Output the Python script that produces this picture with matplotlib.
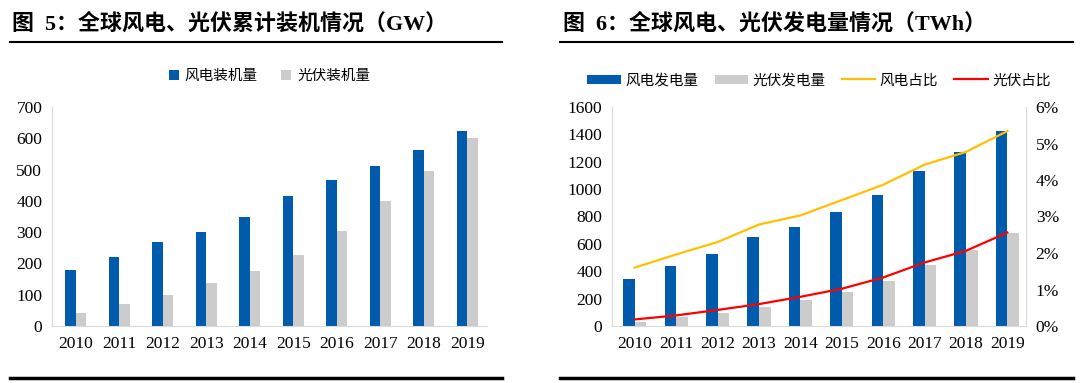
import numpy as np
import matplotlib
matplotlib.use("Agg")
import matplotlib.pyplot as plt
from matplotlib.lines import Line2D
from matplotlib.ticker import PercentFormatter

plt.rcParams["font.family"] = ["Liberation Serif", "Noto Sans CJK SC", "DejaVu Sans"]

years = ["2010", "2011", "2012", "2013", "2014", "2015", "2016", "2017", "2018", "2019"]

# Fig 5: cumulative installed capacity (GW)
wind_cap = [180, 220, 267, 300, 350, 415, 467, 513, 563, 622]
solar_cap = [40, 70, 100, 137, 177, 227, 303, 398, 495, 602]

# Fig 6: generation (TWh) and share (%)
wind_gen = [345, 440, 525, 650, 720, 835, 960, 1135, 1270, 1425]
solar_gen = [32, 63, 97, 139, 190, 250, 330, 443, 555, 680]
wind_share = [1.6, 1.96, 2.3, 2.78, 3.03, 3.45, 3.87, 4.42, 4.77, 5.34]
solar_share = [0.18, 0.29, 0.44, 0.6, 0.8, 1.02, 1.33, 1.74, 2.06, 2.56]

BLUE = "#005BAC"
GRAY = "#CCCCCC"
YELLOW = "#FFC000"
RED = "#FF0000"
SPINE = "#D9D9D9"
cjk = ["Noto Sans CJK SC"]

W, H = 1080, 383
fig = plt.figure(figsize=(W / 100, H / 100), dpi=100)


def px(x0, y0, x1, y1):
    return [x0 / W, 1 - y1 / H, (x1 - x0) / W, (y1 - y0) / H]


def style(ax):
    for s in ["top", "right"]:
        ax.spines[s].set_visible(False)
    for s in ["left", "bottom"]:
        ax.spines[s].set_color(SPINE)
    ax.tick_params(length=0, labelsize=12.5, colors="black")
    ax.tick_params(axis="y", pad=7)
    ax.tick_params(axis="x", pad=7)


x = np.arange(len(years))

# ---- left panel
ax1 = fig.add_axes(px(52, 107, 487, 326))
bw = 0.24
ax1.bar(x - bw / 2, wind_cap, bw, color=BLUE, label="风电装机量")
ax1.bar(x + bw / 2, solar_cap, bw, color=GRAY, label="光伏装机量")
ax1.set_ylim(0, 700)
ax1.set_yticks(range(0, 701, 100))
ax1.set_xlim(-0.55, 9.45)
ax1.set_xticks(x)
ax1.set_xticklabels(years)
style(ax1)
leg = ax1.legend(loc="lower center", bbox_to_anchor=(0.5, 1.05), ncol=2, frameon=False,
                 prop={"family": cjk, "size": 10.5}, handlelength=0.7, handleheight=0.7,
                 columnspacing=1.6, handletextpad=0.4)

# ---- right panel
ax2 = fig.add_axes(px(612, 107, 1026, 326))
bw2 = 0.28
ax2.bar(x - bw2 / 2, wind_gen, bw2, color=BLUE, label="风电发电量")
ax2.bar(x + bw2 / 2, solar_gen, bw2, color=GRAY, label="光伏发电量")
ax2.set_ylim(0, 1600)
ax2.set_yticks(range(0, 1601, 200))
ax2.set_xlim(-0.55, 9.45)
ax2.set_xticks(x)
ax2.set_xticklabels(years)
style(ax2)

ax3 = ax2.twinx()
ax3.plot(x, wind_share, color=YELLOW, lw=1.6, label="风电占比")
ax3.plot(x, solar_share, color=RED, lw=1.6, label="光伏占比")
ax3.set_ylim(0, 6)
ax3.set_yticks(range(0, 7))
ax3.yaxis.set_major_formatter(PercentFormatter(decimals=0))
for s in ["top", "left", "bottom"]:
    ax3.spines[s].set_visible(False)
ax3.spines["right"].set_color(SPINE)
ax3.tick_params(length=0, labelsize=12.5, pad=7)

h1, l1 = ax2.get_legend_handles_labels()
h2, l2 = ax3.get_legend_handles_labels()
ax2.legend(h1 + h2, l1 + l2, loc="lower center", bbox_to_anchor=(0.5, 1.03), ncol=4,
           frameon=False, prop={"family": cjk, "size": 10.5}, handlelength=2.3,
           handleheight=0.6, columnspacing=1.1, handletextpad=0.3)

# ---- titles and rules
fig.text(12 / W, 1 - 24 / H, "图  5：全球风电、光伏累计装机情况（GW）", fontsize=15.8,
         fontweight="bold", va="center", ha="left")
fig.text(563 / W, 1 - 24 / H, "图  6：全球风电、光伏发电量情况（TWh）", fontsize=15.8,
         fontweight="bold", va="center", ha="left")
for (a, b) in [(10, 502), (560, 1073)]:
    fig.add_artist(Line2D([a / W, b / W], [1 - 42 / H] * 2, color="black", lw=1.5))
    fig.add_artist(Line2D([a / W, b / W], [1 - 378 / H] * 2, color="black", lw=2.5))

fig.savefig("out.png", dpi=100)
